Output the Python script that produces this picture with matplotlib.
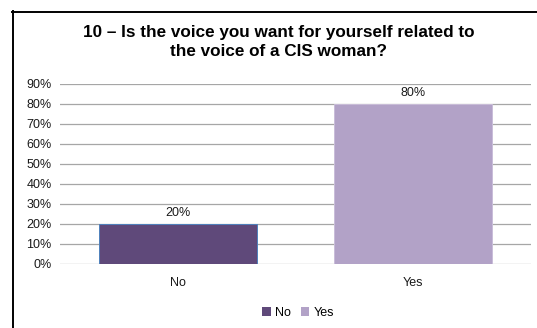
import matplotlib.pyplot as plt
from matplotlib.patches import Patch
from matplotlib.ticker import PercentFormatter

categories = ['No', 'Yes']
shares = [0.20, 0.80]
bar_colors = ['#5F497A', '#B2A2C7']
edge_colors = ['#4F81BD', '#C9BDD9']
y_ticks = [0.0, 0.1, 0.2, 0.3, 0.4, 0.5, 0.6, 0.7, 0.8, 0.9]

plt.rcParams['font.family'] = ['Liberation Sans', 'DejaVu Sans']

fig = plt.figure(figsize=(5.37, 3.28), dpi=100)

# chart frame: only top and left edges fall inside the image
fig.add_artist(plt.Line2D([12.5 / 537, 12.5 / 537], [0, 1 - 11 / 328],
                          color='black', lw=1.4, transform=fig.transFigure))
fig.add_artist(plt.Line2D([12 / 537, 1], [1 - 11.5 / 328, 1 - 11.5 / 328],
                          color='black', lw=1.4, transform=fig.transFigure))

ax = fig.add_axes([60 / 537, 1 - 264 / 328, 471 / 537, 180 / 328])
x = range(len(categories))
bars = ax.bar(x, shares, width=0.67, color=bar_colors, edgecolor=edge_colors,
              linewidth=0.7, zorder=3)

ax.set_xlim(-0.5, 1.5)
ax.set_ylim(0, 0.9)
ax.set_yticks(y_ticks)
ax.yaxis.set_major_formatter(PercentFormatter(1.0, decimals=0))
ax.set_xticks(list(x))
ax.set_xticklabels(categories)
ax.grid(axis='y', color='#A6A6A6', lw=0.9, zorder=0)
ax.tick_params(length=0, labelsize=9, colors='#1A1A1A')
ax.tick_params(axis='x', pad=9)
ax.tick_params(axis='y', pad=6)
for s in ax.spines.values():
    s.set_visible(False)

for b, v in zip(bars, shares):
    ax.text(b.get_x() + b.get_width() / 2, v + 0.025, f'{v:.0%}',
            ha='center', va='bottom', fontsize=9, color='#1A1A1A')

fig.text(279 / 537, 1 - 42 / 328,
         '10 \u2013 Is the voice you want for yourself related to\nthe voice of a CIS woman?',
         ha='center', va='center', fontsize=12.3, fontweight='bold',
         linespacing=1.3)

handles = [Patch(facecolor=c, edgecolor='none') for c in bar_colors]
fig.legend(handles, categories, loc='center', bbox_to_anchor=(298 / 537, 1 - 313 / 328),
           ncol=2, frameon=False, fontsize=9, handlelength=0.7, handleheight=0.7,
           handletextpad=0.3, columnspacing=0.8)

fig.savefig('out.png', dpi=100)
